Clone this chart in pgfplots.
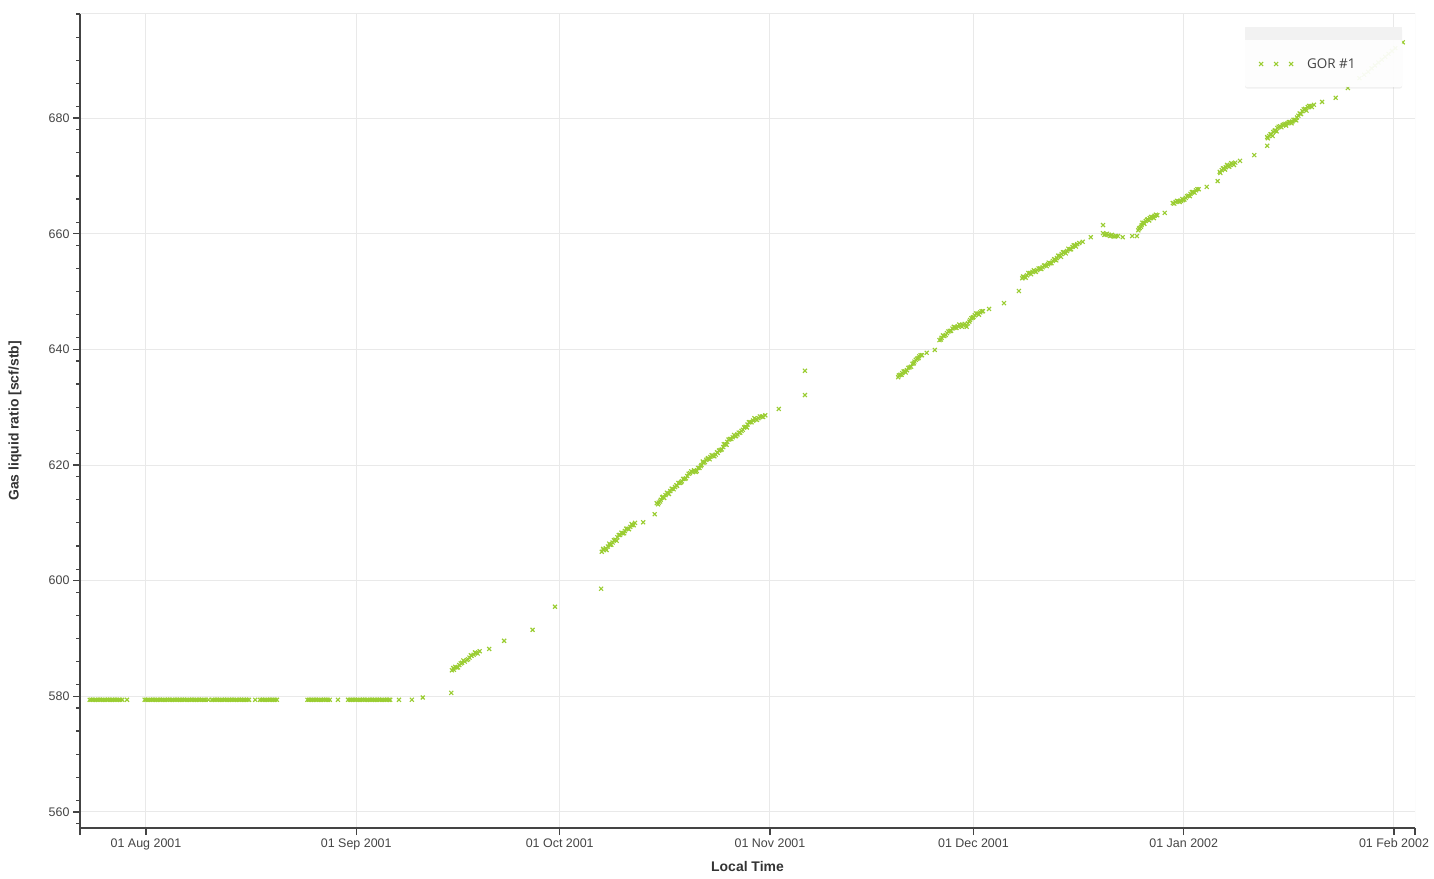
\documentclass[border=0pt]{standalone}
\usepackage{pgfplots}
\pgfplotsset{compat=1.18}
\usepackage{fontspec}
\setmainfont{Liberation Sans}
\newfontfamily\legendfont{Open Sans}
\usetikzlibrary{shadows}

\definecolor{gorgreen}{HTML}{9ACD32}
\definecolor{axisgray}{HTML}{444444}
\definecolor{gridgray}{HTML}{E9E9E9}

\begin{document}
\begin{tikzpicture}
\begin{axis}[
	name=ax, set layers,
	width=1335bp, height=814bp, scale only axis,
	xmin=-9.73, xmax=187.1, ymin=557.23, ymax=698.0,
	axis x line*=bottom, axis y line*=left,
	axis line style={draw=axisgray, line width=1.3bp, -},
	xtick={0,31,61,92,122,153,184},
	xticklabels={01 Aug 2001,01 Sep 2001,01 Oct 2001,01 Nov 2001,01 Dec 2001,01 Jan 2002,01 Feb 2002},
	extra x ticks={-9.73,187.1}, extra x tick labels={}, extra x tick style={grid=none},
	ytick={560,580,...,680},
	minor ytick={558,562,...,698},
	grid=major, major grid style={draw=gridgray, line width=1bp},
	tick align=outside,
	major tick length=7bp, minor tick length=4bp,
	tick style={draw=axisgray, line width=1.2bp},
	tick label style={font=\fontsize{12.5}{14}\selectfont, text=axisgray},
	/pgf/number format/assume math mode=true,
	xlabel={Local Time}, ylabel={Gas liquid ratio [scf/stb]},
	label style={font=\bfseries\fontsize{14}{16}\selectfont, text=black!80},
	xlabel style={at={(axis description cs:0.5,-0.0467)}, anchor=center},
	ylabel style={at={(axis description cs:-0.0487,0.5)}, anchor=center},
	legend style={at={(0.8831,0.9386)}, anchor=west, draw=none, fill=none,
		inner sep=0pt, column sep=12bp,
		font=\legendfont\fontsize{13.5}{15}\selectfont, text=axisgray},
	legend image code/.code={\draw[mark repeat=1,mark phase=1,#1] plot coordinates {(0bp,0bp) (15bp,0bp) (30bp,0bp)};},
]
\addplot[only marks, mark=x, mark size=2.8bp, gorgreen, mark options={line width=1.15bp}] table {
x y
-8.3 579.4
-8.05 579.4
-7.8 579.4
-7.55 579.4
-7.3 579.4
-7.05 579.4
-6.8 579.4
-6.55 579.4
-6.3 579.4
-6.05 579.4
-5.8 579.4
-5.55 579.4
-5.3 579.4
-5.05 579.4
-4.8 579.4
-4.55 579.4
-4.3 579.4
-4.05 579.4
-3.8 579.4
-3.5 579.4
-2.8 579.4
-0.2 579.4
0.05 579.4
0.3 579.4
0.55 579.4
0.8 579.4
1.05 579.4
1.3 579.4
1.55 579.4
1.8 579.4
2.05 579.4
2.3 579.4
2.55 579.4
2.8 579.4
3.05 579.4
3.3 579.4
3.55 579.4
3.8 579.4
4.05 579.4
4.3 579.4
4.55 579.4
4.8 579.4
5.05 579.4
5.3 579.4
5.55 579.4
5.8 579.4
6.05 579.4
6.3 579.4
6.55 579.4
6.8 579.4
7.05 579.4
7.3 579.4
7.55 579.4
7.8 579.4
8.05 579.4
8.3 579.4
8.55 579.4
8.8 579.4
9.2 579.4
9.7 579.4
9.95 579.4
10.2 579.4
10.45 579.4
10.7 579.4
10.95 579.4
11.2 579.4
11.45 579.4
11.7 579.4
11.95 579.4
12.2 579.4
12.45 579.4
12.7 579.4
12.95 579.4
13.2 579.4
13.45 579.4
13.7 579.4
13.95 579.4
14.2 579.4
14.45 579.4
14.7 579.4
14.95 579.4
15.2 579.4
16.1 579.4
16.8 579.4
17.05 579.4
17.3 579.4
17.55 579.4
17.8 579.4
18.05 579.4
18.3 579.4
18.55 579.4
18.8 579.4
19.05 579.4
19.3 579.4
23.8 579.4
24.05 579.4
24.3 579.4
24.55 579.4
24.8 579.4
25.05 579.4
25.3 579.4
25.55 579.4
25.8 579.4
26.05 579.4
26.3 579.4
26.55 579.4
26.8 579.4
27.1 579.4
28.3 579.4
29.8 579.4
30.05 579.4
30.3 579.4
30.55 579.4
30.8 579.4
31.05 579.4
31.3 579.4
31.55 579.4
31.8 579.4
32.05 579.4
32.3 579.4
32.55 579.4
32.8 579.4
33.05 579.4
33.3 579.4
33.55 579.4
33.8 579.4
34.05 579.4
34.3 579.4
34.55 579.4
34.8 579.4
35.05 579.4
35.3 579.4
35.55 579.4
35.8 579.4
36.0 579.4
37.3 579.4
39.2 579.4
40.8 579.8
45.0 580.6
45.1 584.5
45.3 584.9
45.4 584.6
45.6 585.1
45.8 585.0
46.0 585.0
46.2 585.4
46.4 585.7
46.6 585.8
46.8 586.2
47.0 586.0
47.3 586.3
47.5 586.4
47.7 586.7
47.9 587.1
48.0 587.0
48.3 587.2
48.5 587.6
48.7 587.5
48.9 587.4
49.2 587.8
50.6 588.2
52.8 589.6
57.0 591.5
60.3 595.5
67.1 598.6
67.2 605.0
67.4 605.5
67.5 605.3
67.8 605.6
67.9 605.3
68.1 605.9
68.3 606.4
68.4 606.2
68.6 606.2
68.8 606.6
69.0 607.0
69.2 607.1
69.4 606.9
69.5 607.5
69.7 607.9
69.9 607.9
70.1 608.3
70.3 608.2
70.5 608.2
70.6 608.6
70.8 609.0
71.0 609.0
71.2 608.9
71.4 609.3
71.6 609.8
71.7 609.6
71.9 609.6
72.1 610.0
73.3 610.1
75.0 611.5
75.3 613.4
75.5 613.2
75.6 613.5
75.8 613.7
75.9 614.0
76.1 614.4
76.2 614.5
76.4 614.3
76.6 614.8
76.8 615.2
76.9 615.1
77.1 615.0
77.3 615.5
77.5 615.9
77.6 615.9
77.8 615.8
78.0 616.2
78.2 616.5
78.3 616.4
78.5 616.9
78.7 616.9
78.9 617.0
79.0 617.2
79.2 617.6
79.4 617.6
79.6 617.7
79.8 618.1
80.0 618.5
80.2 618.6
80.4 618.9
80.6 618.8
80.8 619.1
80.9 618.9
81.1 618.8
81.2 619.0
81.4 619.5
81.6 619.5
81.8 619.8
81.9 620.0
82.1 620.6
82.2 620.4
82.4 620.5
82.6 620.9
82.8 621.1
82.9 621.2
83.1 621.0
83.2 621.4
83.4 621.7
83.6 621.6
83.8 621.5
84.0 621.8
84.2 622.2
84.3 622.1
84.5 622.5
84.7 622.6
84.9 622.7
85.1 623.1
85.2 623.6
85.4 623.6
85.6 623.5
85.7 624.0
85.9 624.4
86.1 624.5
86.3 624.5
86.5 624.8
86.7 625.2
86.9 625.0
87.0 625.0
87.2 625.3
87.4 625.6
87.6 625.6
87.8 625.9
88.0 626.1
88.2 626.5
88.4 626.6
88.6 626.5
88.7 627.0
88.9 627.4
89.1 627.4
89.3 627.4
89.5 627.7
89.7 628.1
89.9 627.9
90.1 627.8
90.3 628.1
90.5 628.4
90.8 628.4
91.0 628.3
91.3 628.6
93.3 629.7
97.15 632.1
97.15 636.3
110.9 635.2
111.0 635.5
111.2 635.6
111.4 635.6
111.5 635.9
111.7 636.2
111.9 636.2
112.0 636.0
112.2 636.4
112.4 636.8
112.6 636.9
112.8 637.0
113.0 637.5
113.2 637.6
113.3 637.9
113.5 638.2
113.7 638.4
113.9 638.5
114.0 638.8
114.2 639.0
114.4 639.0
115.1 639.4
116.3 639.9
117.0 641.6
117.2 641.7
117.3 642.0
117.5 642.4
117.7 642.3
117.9 642.5
118.1 642.8
118.3 643.1
118.5 643.2
118.7 643.2
118.9 643.6
119.1 643.9
119.3 643.8
119.5 643.7
119.7 644.0
119.9 644.3
120.1 644.1
120.3 643.9
120.5 644.2
120.7 644.4
120.9 644.2
121.0 643.9
121.2 644.5
121.4 644.8
121.5 645.1
121.7 645.4
121.9 645.5
122.0 645.6
122.2 645.9
122.4 646.2
122.6 646.2
122.8 646.0
123.0 646.4
123.2 646.6
123.4 646.6
124.3 647.0
126.5 648.0
128.7 650.1
129.2 652.3
129.3 652.6
129.5 652.5
129.7 652.4
129.9 652.8
130.1 653.2
130.3 653.2
130.5 653.0
130.7 653.4
130.9 653.7
131.0 653.5
131.2 653.4
131.4 653.7
131.6 654.0
131.8 654.0
132.0 653.9
132.2 654.2
132.4 654.5
132.6 654.5
132.8 654.4
133.0 654.7
133.1 655.0
133.3 654.9
133.5 654.9
133.7 655.3
133.9 655.6
134.0 655.5
134.2 655.4
134.3 655.8
134.5 656.2
134.7 656.2
134.9 656.0
135.0 656.5
135.2 656.8
135.4 656.8
135.6 656.6
135.8 657.0
136.0 657.4
136.2 657.3
136.4 657.3
136.6 657.7
136.8 658.0
137.0 658.0
137.1 657.8
137.3 658.2
137.6 658.4
138.1 658.6
139.3 659.4
141.1 661.5
141.1 660.1
141.3 659.8
141.5 659.9
141.7 660.0
141.9 659.8
142.1 659.6
142.3 659.7
142.4 659.8
142.6 659.6
142.8 659.5
143.0 659.6
143.3 659.6
144.0 659.4
145.4 659.6
146.1 659.6
146.3 660.6
146.4 660.9
146.5 661.0
146.7 661.2
146.8 661.5
146.9 661.9
147.1 661.9
147.2 661.7
147.4 662.2
147.6 662.4
147.7 662.5
147.9 662.3
148.0 662.7
148.2 662.9
148.4 662.9
148.6 662.7
148.7 663.1
148.9 663.3
149.1 663.2
150.2 663.6
151.4 665.3
151.6 665.2
151.8 665.5
152.0 665.7
152.2 665.6
152.4 665.5
152.6 665.7
152.8 666.0
152.9 665.8
153.1 665.9
153.3 666.2
153.5 666.5
153.7 666.6
153.9 666.5
154.0 666.9
154.2 667.2
154.4 667.2
154.6 667.1
154.8 667.5
155.0 667.7
155.2 667.7
156.4 668.1
158.0 669.1
158.3 670.7
158.4 670.5
158.6 671.0
158.8 671.3
158.9 671.3
159.1 671.1
159.2 671.5
159.4 671.9
159.5 671.7
159.7 671.6
159.8 671.9
160.0 672.2
160.2 672.1
160.4 671.9
160.6 672.3
161.3 672.6
163.4 673.6
165.3 675.2
165.3 676.7
165.4 676.5
165.6 676.9
165.8 677.2
165.9 677.2
166.1 676.9
166.2 677.6
166.4 677.8
166.5 677.9
166.7 677.7
166.8 678.3
167.0 678.5
167.2 678.6
167.4 678.4
167.6 678.8
167.8 678.9
168.0 679.0
168.1 678.7
168.3 679.1
168.5 679.3
168.7 679.3
168.9 679.1
169.0 679.4
169.2 679.7
169.4 679.7
169.6 679.6
169.7 680.1
169.9 680.4
170.1 680.8
170.3 680.7
170.5 681.2
170.7 681.5
170.9 681.6
171.1 681.3
171.3 681.9
171.5 682.1
171.7 682.1
171.9 681.9
172.2 682.3
173.4 682.8
175.4 683.5
177.2 685.2
178.9 686.9
179.6 687.5
180.2 688.0
180.7 688.6
181.2 689.1
181.7 689.6
182.2 690.1
182.7 690.6
183.2 691.1
183.7 691.6
184.2 692.1
185.3 693.1
};
\addlegendentry{GOR \#1}
% plot outline on the top and right side
\draw[gridgray, line width=1bp] (rel axis cs:0,1) -- (rel axis cs:1,1) -- (rel axis cs:1,0);
% legend box, above the marks
\begin{pgfonlayer}{axis descriptions}
\fill[white, fill opacity=0.93, rounded corners=2bp,
	drop shadow={shadow xshift=0bp, shadow yshift=-1.5bp, opacity=0.12}]
	(rel axis cs:0.8727,0.9103) rectangle (rel axis cs:0.9903,0.9840);
\fill[black!5, fill opacity=0.93] (rel axis cs:0.8727,0.9681) rectangle (rel axis cs:0.9903,0.9840);
\end{pgfonlayer}
\end{axis}
\pgfresetboundingbox
\path ([shift={(-80bp,-50bp)}]ax.south west) rectangle ([shift={(19bp,14bp)}]ax.north east);
\end{tikzpicture}
\end{document}
